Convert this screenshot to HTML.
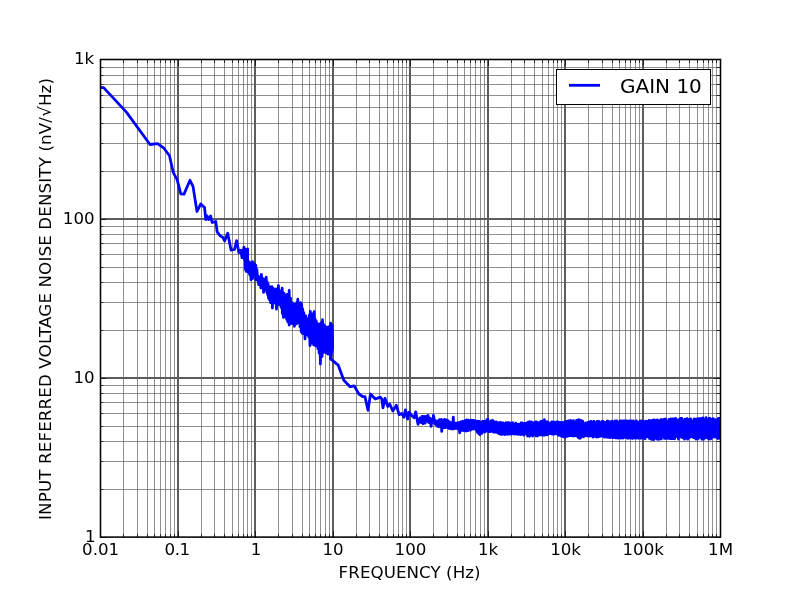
<!DOCTYPE html>
<html lang="en"><head><meta charset="utf-8"><title>Input referred voltage noise density</title>
<style>
html,body{margin:0;padding:0;background:#fff;}
body{width:800px;height:597px;overflow:hidden;}
svg{display:block;will-change:transform;}
svg text{font-family:"DejaVu Sans","Liberation Sans",sans-serif;font-size:16.67px;fill:#000;}
</style></head><body>
<svg width="800" height="597" viewBox="0 0 800 597">
<rect width="800" height="597" fill="#fff"/>
<g stroke="#606060" stroke-width="0.7">
<path d="M123.5 59.70V537.30M137.5 59.70V537.30M147.5 59.70V537.30M154.5 59.70V537.30M160.5 59.70V537.30M165.5 59.70V537.30M170.5 59.70V537.30M174.5 59.70V537.30M201.5 59.70V537.30M214.5 59.70V537.30M224.5 59.70V537.30M232.5 59.70V537.30M238.5 59.70V537.30M243.5 59.70V537.30M247.5 59.70V537.30M251.5 59.70V537.30M278.5 59.70V537.30M292.5 59.70V537.30M302.5 59.70V537.30M309.5 59.70V537.30M315.5 59.70V537.30M320.5 59.70V537.30M325.5 59.70V537.30M329.5 59.70V537.30M356.5 59.70V537.30M369.5 59.70V537.30M379.5 59.70V537.30M387.5 59.70V537.30M393.5 59.70V537.30M398.5 59.70V537.30M402.5 59.70V537.30M406.5 59.70V537.30M433.5 59.70V537.30M447.5 59.70V537.30M457.5 59.70V537.30M464.5 59.70V537.30M470.5 59.70V537.30M475.5 59.70V537.30M480.5 59.70V537.30M484.5 59.70V537.30M511.5 59.70V537.30M524.5 59.70V537.30M534.5 59.70V537.30M542.5 59.70V537.30M548.5 59.70V537.30M553.5 59.70V537.30M557.5 59.70V537.30M561.5 59.70V537.30M588.5 59.70V537.30M602.5 59.70V537.30M612.5 59.70V537.30M619.5 59.70V537.30M625.5 59.70V537.30M630.5 59.70V537.30M635.5 59.70V537.30M639.5 59.70V537.30M666.5 59.70V537.30M679.5 59.70V537.30M689.5 59.70V537.30M697.5 59.70V537.30M703.5 59.70V537.30M708.5 59.70V537.30M712.5 59.70V537.30M716.5 59.70V537.30M100.00 489.5H720.00M100.00 461.5H720.00M100.00 441.5H720.00M100.00 426.5H720.00M100.00 413.5H720.00M100.00 402.5H720.00M100.00 393.5H720.00M100.00 385.5H720.00M100.00 330.5H720.00M100.00 302.5H720.00M100.00 282.5H720.00M100.00 267.5H720.00M100.00 254.5H720.00M100.00 243.5H720.00M100.00 234.5H720.00M100.00 226.5H720.00M100.00 171.5H720.00M100.00 143.5H720.00M100.00 123.5H720.00M100.00 107.5H720.00M100.00 95.5H720.00M100.00 84.5H720.00M100.00 75.5H720.00M100.00 67.5H720.00"/>
</g>
<g stroke="#5c5c5c" stroke-width="2">
<path d="M178.0 59.70V537.30M255.0 59.70V537.30M333.0 59.70V537.30M410.0 59.70V537.30M488.0 59.70V537.30M565.0 59.70V537.30M643.0 59.70V537.30M100.00 378.0H720.00M100.00 219.0H720.00"/>
</g>
<path d="M123.5 537.30v-3.3M123.5 59.70v3.3M137.5 537.30v-3.3M137.5 59.70v3.3M147.5 537.30v-3.3M147.5 59.70v3.3M154.5 537.30v-3.3M154.5 59.70v3.3M160.5 537.30v-3.3M160.5 59.70v3.3M165.5 537.30v-3.3M165.5 59.70v3.3M170.5 537.30v-3.3M170.5 59.70v3.3M174.5 537.30v-3.3M174.5 59.70v3.3M201.5 537.30v-3.3M201.5 59.70v3.3M214.5 537.30v-3.3M214.5 59.70v3.3M224.5 537.30v-3.3M224.5 59.70v3.3M232.5 537.30v-3.3M232.5 59.70v3.3M238.5 537.30v-3.3M238.5 59.70v3.3M243.5 537.30v-3.3M243.5 59.70v3.3M247.5 537.30v-3.3M247.5 59.70v3.3M251.5 537.30v-3.3M251.5 59.70v3.3M278.5 537.30v-3.3M278.5 59.70v3.3M292.5 537.30v-3.3M292.5 59.70v3.3M302.5 537.30v-3.3M302.5 59.70v3.3M309.5 537.30v-3.3M309.5 59.70v3.3M315.5 537.30v-3.3M315.5 59.70v3.3M320.5 537.30v-3.3M320.5 59.70v3.3M325.5 537.30v-3.3M325.5 59.70v3.3M329.5 537.30v-3.3M329.5 59.70v3.3M356.5 537.30v-3.3M356.5 59.70v3.3M369.5 537.30v-3.3M369.5 59.70v3.3M379.5 537.30v-3.3M379.5 59.70v3.3M387.5 537.30v-3.3M387.5 59.70v3.3M393.5 537.30v-3.3M393.5 59.70v3.3M398.5 537.30v-3.3M398.5 59.70v3.3M402.5 537.30v-3.3M402.5 59.70v3.3M406.5 537.30v-3.3M406.5 59.70v3.3M433.5 537.30v-3.3M433.5 59.70v3.3M447.5 537.30v-3.3M447.5 59.70v3.3M457.5 537.30v-3.3M457.5 59.70v3.3M464.5 537.30v-3.3M464.5 59.70v3.3M470.5 537.30v-3.3M470.5 59.70v3.3M475.5 537.30v-3.3M475.5 59.70v3.3M480.5 537.30v-3.3M480.5 59.70v3.3M484.5 537.30v-3.3M484.5 59.70v3.3M511.5 537.30v-3.3M511.5 59.70v3.3M524.5 537.30v-3.3M524.5 59.70v3.3M534.5 537.30v-3.3M534.5 59.70v3.3M542.5 537.30v-3.3M542.5 59.70v3.3M548.5 537.30v-3.3M548.5 59.70v3.3M553.5 537.30v-3.3M553.5 59.70v3.3M557.5 537.30v-3.3M557.5 59.70v3.3M561.5 537.30v-3.3M561.5 59.70v3.3M588.5 537.30v-3.3M588.5 59.70v3.3M602.5 537.30v-3.3M602.5 59.70v3.3M612.5 537.30v-3.3M612.5 59.70v3.3M619.5 537.30v-3.3M619.5 59.70v3.3M625.5 537.30v-3.3M625.5 59.70v3.3M630.5 537.30v-3.3M630.5 59.70v3.3M635.5 537.30v-3.3M635.5 59.70v3.3M639.5 537.30v-3.3M639.5 59.70v3.3M666.5 537.30v-3.3M666.5 59.70v3.3M679.5 537.30v-3.3M679.5 59.70v3.3M689.5 537.30v-3.3M689.5 59.70v3.3M697.5 537.30v-3.3M697.5 59.70v3.3M703.5 537.30v-3.3M703.5 59.70v3.3M708.5 537.30v-3.3M708.5 59.70v3.3M712.5 537.30v-3.3M712.5 59.70v3.3M716.5 537.30v-3.3M716.5 59.70v3.3M100.5 537.30v-6.1M100.5 59.70v6.1M178.5 537.30v-6.1M178.5 59.70v6.1M255.5 537.30v-6.1M255.5 59.70v6.1M333.5 537.30v-6.1M333.5 59.70v6.1M410.5 537.30v-6.1M410.5 59.70v6.1M488.5 537.30v-6.1M488.5 59.70v6.1M565.5 537.30v-6.1M565.5 59.70v6.1M643.5 537.30v-6.1M643.5 59.70v6.1M720.5 537.30v-6.1M720.5 59.70v6.1M100.00 489.5h3.3M720.00 489.5h-3.3M100.00 461.5h3.3M720.00 461.5h-3.3M100.00 441.5h3.3M720.00 441.5h-3.3M100.00 426.5h3.3M720.00 426.5h-3.3M100.00 413.5h3.3M720.00 413.5h-3.3M100.00 402.5h3.3M720.00 402.5h-3.3M100.00 393.5h3.3M720.00 393.5h-3.3M100.00 385.5h3.3M720.00 385.5h-3.3M100.00 330.5h3.3M720.00 330.5h-3.3M100.00 302.5h3.3M720.00 302.5h-3.3M100.00 282.5h3.3M720.00 282.5h-3.3M100.00 267.5h3.3M720.00 267.5h-3.3M100.00 254.5h3.3M720.00 254.5h-3.3M100.00 243.5h3.3M720.00 243.5h-3.3M100.00 234.5h3.3M720.00 234.5h-3.3M100.00 226.5h3.3M720.00 226.5h-3.3M100.00 171.5h3.3M720.00 171.5h-3.3M100.00 143.5h3.3M720.00 143.5h-3.3M100.00 123.5h3.3M720.00 123.5h-3.3M100.00 107.5h3.3M720.00 107.5h-3.3M100.00 95.5h3.3M720.00 95.5h-3.3M100.00 84.5h3.3M720.00 84.5h-3.3M100.00 75.5h3.3M720.00 75.5h-3.3M100.00 67.5h3.3M720.00 67.5h-3.3M100.00 537.5h6.1M720.00 537.5h-6.1M100.00 378.5h6.1M720.00 378.5h-6.1M100.00 219.5h6.1M720.00 219.5h-6.1M100.00 59.5h6.1M720.00 59.5h-6.1" stroke="#000" stroke-width="0.7" fill="none"/>
<clipPath id="ax"><rect x="100" y="59.7" width="620.3" height="477.6"/></clipPath><path clip-path="url(#ax)" d="M100.6,87.6 103.6,87.6 126.4,112.1 150.0,144.5 157.6,143.6 163.9,148.2 169.5,155.8 173.3,172.7 177.1,179.6 180.8,193.8 184.0,194.1 190.0,180.3 193.0,186.4 197.0,211.5 200.8,203.9 204.5,207.4 205.8,219.6 207.0,215.9 208.7,219.6 210.6,215.9 212.1,222.5 215.8,221.5 217.1,231.6 220.2,236.0 222.7,237.2 224.6,241.0 227.7,233.2 231.1,250.2 234.5,249.5 236.6,240.6 238.9,252.7 240.8,250.2 242.0,257.7 243.9,247.2 244.5,260.0 245.0,249.0 245.4,269.4 245.8,253.1 246.2,271.4 246.9,251.4 247.6,248.9 247.6,268.6 248.6,272.5 249.2,261.8 249.8,274.9 250.2,263.3 251.0,279.8 251.2,263.0 251.6,275.6 252.6,261.6 252.6,278.5 253.7,263.7 254.1,274.4 254.6,264.0 255.3,275.7 255.8,265.2 255.8,279.6 256.9,269.5 257.6,280.4 258.2,275.9 258.6,284.5 259.3,278.1 259.8,284.0 260.3,277.2 260.8,287.9 261.4,274.4 262.2,286.8 262.7,278.5 263.6,292.3 263.8,280.6 264.5,288.7 265.1,279.0 265.7,289.7 266.2,277.2 266.8,292.2 267.2,281.9 267.7,294.8 268.2,284.2 268.5,298.1 269.0,286.8 269.5,299.8 270.2,286.9 270.6,302.7 271.1,286.8 271.5,301.8 271.9,286.7 272.4,308.0 273.1,288.1 273.5,298.4 274.2,289.3 274.8,302.4 275.5,290.3 275.9,304.3 276.3,288.9 276.5,309.2 277.3,288.9 278.0,303.9 278.4,285.6 279.1,304.7 279.6,291.3 280.0,304.5 280.7,290.9 281.1,307.4 282.2,288.1 282.3,313.4 282.7,291.9 283.4,317.4 284.1,293.4 284.6,316.9 285.0,295.2 285.5,316.5 286.2,295.2 286.7,319.5 287.2,294.4 287.7,321.8 288.2,297.7 289.2,325.0 289.2,290.3 289.8,322.7 290.5,298.2 291.1,323.3 291.6,303.9 292.1,323.6 292.5,302.9 293.1,322.7 293.6,303.9 294.4,326.3 294.8,305.1 295.4,323.3 295.8,303.8 296.5,323.9 297.0,301.9 297.5,322.6 297.8,299.2 298.7,322.6 299.4,306.0 300.0,326.7 300.6,302.6 301.2,331.6 301.7,304.5 302.2,333.2 302.7,308.8 303.1,333.7 303.8,312.6 304.2,334.0 304.7,315.7 305.0,338.9 306.0,316.1 306.4,334.4 306.9,318.7 307.5,334.7 308.2,319.3 308.7,337.0 309.4,315.0 310.0,345.7 310.3,311.5 310.9,337.6 311.4,314.3 311.9,343.2 312.3,314.0 312.7,341.1 313.2,315.4 313.7,344.9 314.2,311.6 314.8,344.7 315.3,319.3 315.8,345.9 316.4,321.3 316.8,345.9 317.4,323.6 317.9,348.7 318.4,329.5 319.1,353.0 319.8,324.1 320.4,364.0 320.8,323.0 321.1,356.5 321.7,323.5 322.1,356.5 322.5,319.7 323.3,352.7 323.8,324.6 324.4,350.4 325.1,326.1 325.7,352.4 326.3,330.8 326.9,353.3 327.6,327.1 328.1,354.1 328.6,331.4 329.2,353.8 329.8,326.0 330.6,357.1 330.6,323.2 331.6,350.8 332.1,325.4 332.7,347.2 330.3,358.6 338.2,365.1 343.8,380.2 350.1,386.7 354.1,385.8 358.9,394.0 362.7,396.7 365.0,396.7 368.0,410.3 370.5,394.0 375.3,399.0 380.3,397.1 381.8,399.0 383.0,407.8 385.0,398.4 387.8,406.5 389.7,404.0 392.8,410.9 396.4,405.3 399.1,414.7 401.6,413.4 403.9,417.2 405.4,409.9 407.7,419.1 408.9,412.2 411.6,415.5 414.2,417.8 415.7,411.8 418.0,424.3 420.0,418.0 421.2,422.7 422.0,416.4 423.2,423.7 423.9,416.3 425.1,423.2 426.0,416.5 427.1,421.2 428.1,415.3 428.7,422.5 430.0,418.1 431.1,426.4 432.0,419.0 433.3,422.4 433.4,415.3 435.2,424.2 436.0,420.8 437.0,426.2 438.0,421.0 438.7,426.7 439.5,419.7 440.8,427.2 441.6,419.5 441.7,431.4 443.0,420.6 443.8,427.5 444.5,419.5 445.3,427.5 446.3,419.9 447.4,427.5 448.0,420.6 448.9,428.4 449.6,422.2 450.4,428.6 451.4,422.7 452.3,429.0 453.3,417.2 453.8,428.8 454.5,423.1 455.3,428.3 456.0,423.2 456.7,428.3 457.7,422.9 458.5,429.0 459.3,422.4 459.7,432.9 461.3,421.7 462.1,430.3 462.9,421.4 463.9,430.7 464.9,420.7 465.8,431.0 466.8,420.0 467.9,430.6 468.6,420.1 469.7,429.8 470.4,430.1 471.2,420.1 471.7,428.9 472.3,420.3 472.9,429.2 473.4,420.5 474.0,428.9 474.6,420.9 475.1,428.5 475.8,420.9 476.4,430.4 476.9,421.6 477.4,432.3 478.0,421.2 478.7,433.6 479.2,421.4 479.9,434.7 480.6,422.6 481.2,433.6 481.8,421.8 482.2,432.8 483.0,421.2 483.4,431.2 484.2,421.6 484.9,432.0 485.7,421.2 486.3,431.0 486.9,419.7 487.4,430.7 487.9,419.2 488.4,431.4 489.0,422.9 489.6,431.7 490.1,421.7 490.7,431.5 491.1,421.0 491.9,430.7 492.6,420.4 493.4,432.2 494.0,421.9 494.5,432.1 495.1,421.8 495.6,432.0 496.4,421.9 497.0,432.4 497.4,422.4 498.2,433.2 498.7,423.3 499.4,433.9 500.1,422.3 500.4,434.2 501.1,422.6 501.5,434.5 502.0,423.0 502.4,433.8 503.0,423.0 503.5,433.2 504.0,423.3 504.6,434.7 505.0,424.0 505.5,433.4 506.1,422.6 506.7,433.9 507.1,423.5 507.7,434.4 508.2,422.6 508.8,433.6 509.3,422.8 509.7,433.9 510.1,423.2 510.5,434.2 510.9,423.8 511.4,434.1 511.9,422.6 512.3,432.8 512.9,422.8 513.3,433.4 513.7,424.2 514.2,434.1 514.8,424.1 515.3,433.2 515.9,423.2 516.5,434.1 517.1,424.2 517.6,433.9 518.0,424.8 518.5,434.3 519.1,424.2 519.4,433.3 520.1,424.5 520.7,434.7 521.1,423.0 521.5,433.3 522.0,423.0 522.6,433.6 523.0,423.7 523.6,435.2 524.1,423.4 524.5,434.0 525.1,424.2 525.7,433.8 526.1,423.1 526.6,434.5 527.1,423.3 527.6,436.0 528.1,422.1 528.7,435.7 529.1,421.9 529.5,436.3 530.0,421.9 530.5,434.4 531.1,421.9 531.6,434.9 532.0,422.2 532.6,436.1 533.2,422.9 533.9,434.4 534.5,423.7 535.1,434.3 535.5,421.9 536.0,435.9 536.4,421.9 536.8,435.8 537.4,422.5 537.8,435.8 538.3,422.6 538.9,434.8 539.6,423.6 540.1,434.4 540.5,421.7 541.0,435.0 541.4,421.2 542.0,433.9 542.6,421.5 543.1,435.3 543.5,421.0 544.0,435.2 544.4,419.7 544.7,435.1 545.2,421.7 545.7,433.3 546.2,422.5 546.6,434.8 547.2,421.6 547.6,434.7 548.2,422.7 548.7,433.6 549.3,423.2 549.7,433.7 550.1,423.5 550.4,433.6 550.8,423.3 551.3,433.7 551.7,421.9 552.1,434.1 552.7,423.6 553.2,433.3 553.7,421.9 554.1,434.2 554.7,422.4 555.3,432.9 555.8,422.3 556.2,433.8 556.6,421.9 557.0,433.4 557.7,421.9 558.3,435.1 558.9,422.6 559.5,435.4 560.1,422.5 560.5,435.3 561.0,423.4 561.4,436.1 561.7,423.7 562.2,436.3 562.5,422.5 563.1,436.6 563.6,423.2 564.2,437.0 564.8,422.0 565.2,437.0 565.6,422.0 566.1,436.3 566.5,421.4 567.1,436.4 567.6,421.1 568.0,435.6 568.5,420.9 569.1,435.9 569.6,421.7 570.0,435.0 570.4,420.4 571.0,435.7 571.4,421.0 571.8,434.7 572.4,422.4 572.8,435.9 573.5,420.7 574.0,436.0 574.6,422.8 575.1,435.7 575.6,422.0 576.2,434.8 576.6,420.4 577.2,436.3 577.8,422.0 578.3,437.5 578.8,419.7 579.2,438.1 579.8,422.1 580.4,438.1 580.9,420.4 581.3,436.1 581.9,420.8 582.3,435.8 582.7,421.1 583.4,436.9 584.0,423.4 584.6,436.0 585.1,423.5 585.5,434.8 585.9,423.0 586.4,435.4 586.9,423.5 587.4,436.0 587.9,422.5 588.3,435.0 589.0,422.0 589.6,436.1 590.0,422.9 590.4,435.6 591.0,421.3 591.5,435.8 591.9,422.0 592.3,436.3 592.8,422.3 593.2,437.1 593.8,421.4 594.1,436.1 594.7,422.3 595.3,435.9 595.9,423.0 596.4,437.0 597.0,421.3 597.5,436.9 598.0,422.6 598.4,436.9 599.0,421.5 599.4,436.4 599.8,423.3 600.4,436.0 600.9,423.0 601.4,436.1 602.0,421.3 602.5,435.1 602.9,421.3 603.4,435.4 603.8,423.5 604.2,437.1 604.7,422.5 605.3,435.7 605.9,423.3 606.5,437.2 607.1,421.2 607.5,437.2 607.9,421.2 608.3,437.4 608.7,421.4 609.1,437.2 609.7,421.9 610.3,437.5 610.8,422.2 611.3,437.3 611.8,421.1 612.2,435.4 612.6,422.2 613.2,437.7 613.8,422.2 614.3,437.4 614.8,421.0 615.3,437.8 615.9,421.7 616.3,437.9 616.8,420.9 617.4,438.0 618.0,422.4 618.5,438.0 619.0,422.2 619.6,436.4 620.0,420.8 620.5,438.1 621.1,420.8 621.6,437.2 622.1,423.1 622.8,438.2 623.2,420.8 623.8,437.3 624.4,421.0 624.9,437.3 625.5,420.8 626.0,436.9 626.4,420.8 627.0,438.0 627.5,421.2 628.0,438.2 628.4,422.5 629.0,438.2 629.5,420.8 630.1,437.2 630.6,423.2 631.1,438.1 631.6,420.8 632.2,438.3 632.5,423.2 632.9,438.3 633.5,420.8 634.1,436.4 634.5,423.1 635.0,437.9 635.4,421.7 635.9,438.3 636.5,420.8 636.9,437.4 637.3,422.5 637.7,437.9 638.0,422.3 638.5,438.3 639.1,422.4 639.6,436.9 640.2,420.9 640.8,438.3 641.4,421.5 641.8,437.3 642.4,420.8 642.9,438.0 643.5,421.7 644.1,438.4 644.5,422.1 645.1,438.6 645.7,421.1 646.2,436.9 646.8,421.3 647.3,436.5 647.9,422.5 648.5,437.0 649.0,420.4 649.5,438.5 649.9,422.7 650.5,437.2 651.1,420.6 651.6,439.4 652.0,422.4 652.5,438.3 653.0,420.1 653.7,439.6 654.2,420.0 654.7,438.0 655.1,422.7 655.7,438.3 656.1,420.5 656.8,438.9 657.4,419.8 657.8,439.4 658.2,421.0 658.7,439.1 659.0,420.8 659.4,439.1 659.9,420.6 660.5,437.3 660.9,419.6 661.3,438.9 661.8,419.7 662.4,436.1 662.9,420.3 663.3,436.3 663.9,419.3 664.4,438.4 664.9,419.2 665.4,438.3 665.8,419.2 666.3,438.4 667.0,421.2 667.6,438.4 668.1,421.5 668.7,437.5 669.1,419.5 669.7,438.5 670.0,419.7 670.4,438.6 670.9,418.9 671.5,438.6 672.0,420.7 672.4,438.7 673.0,418.8 673.5,438.7 673.9,420.5 674.6,438.8 675.0,418.7 675.6,436.8 675.9,418.6 676.3,436.0 676.8,420.9 677.4,436.7 677.8,420.9 678.4,439.0 678.8,419.6 679.2,436.7 679.8,419.0 680.2,436.4 680.6,418.4 681.2,437.2 681.8,418.4 682.5,437.6 682.9,420.8 683.4,436.7 683.9,421.4 684.4,439.1 684.9,419.1 685.4,438.3 686.0,421.3 686.6,437.6 687.1,418.6 687.7,439.1 688.1,420.8 688.5,436.5 688.9,421.5 689.4,437.7 689.8,419.1 690.2,436.6 690.7,418.8 691.1,436.6 691.7,421.2 692.3,436.7 692.9,420.6 693.5,437.7 694.2,418.9 694.6,437.2 695.2,419.5 695.8,439.0 696.3,419.1 696.8,437.4 697.2,419.0 697.7,439.0 698.1,418.9 698.7,438.0 699.3,418.6 699.9,437.0 700.3,419.8 700.9,436.9 701.3,418.3 701.8,439.1 702.3,418.3 702.7,437.6 703.1,418.0 703.6,439.2 704.0,420.6 704.6,438.0 705.1,420.1 705.6,437.8 706.1,417.7 706.5,437.7 707.1,420.8 707.7,436.8 708.2,420.1 708.6,439.0 709.0,418.5 709.3,437.2 709.9,418.3 710.6,438.9 711.0,420.3 711.5,438.4 712.0,419.3 712.6,437.3 713.2,418.6 713.8,435.9 714.3,420.0 714.8,437.0 715.5,419.6 715.9,437.1 716.4,420.2 716.8,436.7 717.5,419.9 717.9,438.5 718.4,418.4 719.0,436.6 719.6,418.4 720.1,438.4 720.4,419.6" fill="none" stroke="#0000ff" stroke-width="2.78" stroke-linejoin="round" stroke-linecap="butt"/>
<rect x="100.50" y="59.50" width="620.00" height="477.60" fill="none" stroke="#000" stroke-width="1.55"/>
<rect x="556.5" y="69.5" width="154" height="35" fill="#fff" stroke="#000" stroke-width="1"/>
<path d="M569 85.3H600" stroke="#00f" stroke-width="2.8" fill="none"/>
<text x="620" y="93.1" style="font-size:20px">GAIN 10</text>
<text x="100.60" y="554.6" text-anchor="middle">0.01</text>
<text x="177.30" y="554.6" text-anchor="middle" textLength="25.4">0.1</text>
<text x="256.00" y="554.6" text-anchor="middle">1</text>
<text x="333.00" y="554.6" text-anchor="middle">10</text>
<text x="410.50" y="554.6" text-anchor="middle">100</text>
<text x="488.00" y="554.6" text-anchor="middle">1k</text>
<text x="565.60" y="554.6" text-anchor="middle">10k</text>
<text x="643.20" y="554.6" text-anchor="middle">100k</text>
<text x="720.60" y="554.6" text-anchor="middle">1M</text>
<text x="95.6" y="542.20" text-anchor="end">1</text>
<text x="94.6" y="383.00" text-anchor="end">10</text>
<text x="94.6" y="223.80" text-anchor="end">100</text>
<text x="94.2" y="63.90" text-anchor="end">1k</text>
<text x="409.6" y="578" text-anchor="middle" textLength="142">FREQUENCY (Hz)</text>
<text transform="translate(50.7 299) rotate(-90)" text-anchor="middle" textLength="442">INPUT REFERRED VOLTAGE NOISE DENSITY (nV/√Hz)</text>
</svg>
</body></html>
